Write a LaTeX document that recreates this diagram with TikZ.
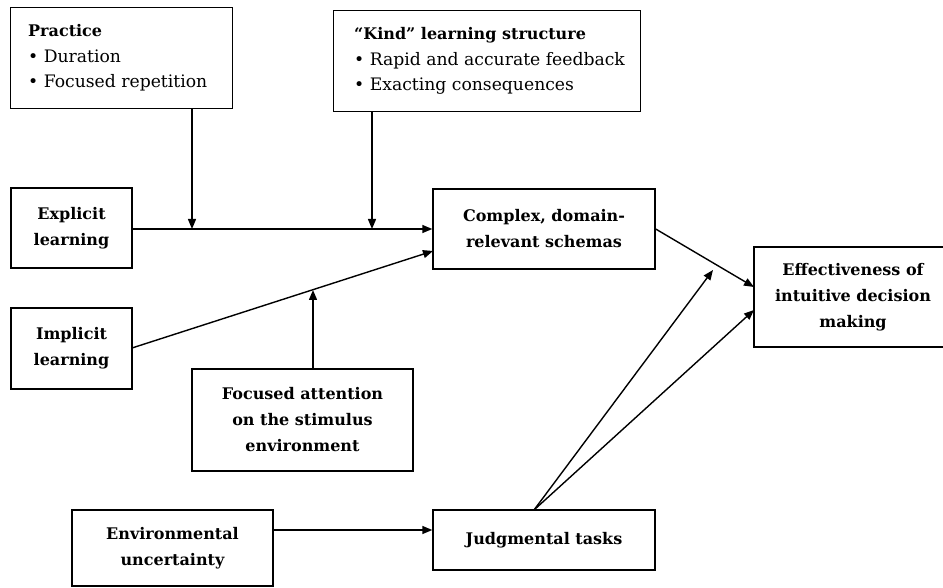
\documentclass[tikz,border=0pt]{standalone}
\usepackage{fontspec}
\setmainfont{DejaVu Serif}
\usetikzlibrary{arrows.meta}
\begin{document}
\begin{tikzpicture}[x=1pt,y=-1pt,
  box/.style={draw, line width=1.4pt, inner sep=0pt, align=center,
    font=\fontsize{16}{26}\selectfont\bfseries},
  frame/.style={draw, line width=1.4pt, inner sep=0pt, anchor=north west},
  listtext/.style={inner sep=0pt, align=left, anchor=west,
    font=\fontsize{17.2}{25.5}\selectfont},
  conn/.style={line width=1.4pt, -{Triangle[length=10pt,width=8pt]}}
]
\clip (0,0) rectangle (943,588);
\fill[white] (0,0) rectangle (943,588);
% nodes
\node[frame, minimum width=222pt, minimum height=101pt] (practice) at (10,7) {};
\node[listtext] (practicetxt) at (28,58)
  {{\fontsize{16}{25.5}\selectfont\bfseries Practice}\\ • Duration\\ • Focused repetition};
\node[frame, minimum width=307pt, minimum height=101pt] (kind) at (333,10) {};
\node[listtext] (kindtxt) at (354,61)
  {{\fontsize{16}{25.5}\selectfont\bfseries “Kind” learning structure}\\ • Rapid and accurate feedback\\ • Exacting consequences};
\node[box, minimum width=121pt, minimum height=80pt] (explicit) at (71.5,228) {Explicit\\learning};
\node[box, minimum width=222pt, minimum height=80pt] (complex) at (544,229) {Complex, domain-\\relevant schemas};
\node[box, minimum width=198pt, minimum height=100pt] (eff) at (853,297) {Effectiveness of\\intuitive decision\\making};
\node[box, minimum width=121pt, minimum height=81pt] (implicit) at (71.5,348.5) {Implicit\\learning};
\node[box, minimum width=221pt, minimum height=102pt] (focused) at (302.5,420) {Focused attention\\on the stimulus\\environment};
\node[box, minimum width=201pt, minimum height=76pt] (env) at (172.5,548) {Environmental\\uncertainty};
\node[box, minimum width=222pt, minimum height=60pt] (judg) at (544,540) {Judgmental tasks};
% helper coordinates
\coordinate (pa) at (192,229);
\coordinate (ka) at (372,229);
\coordinate (fa) at (313,290);
\coordinate (ja) at (713,270);
\coordinate (js) at (534,510);
\coordinate (ea) at (754,287);
\coordinate (eb) at (754,310);
\coordinate (ia) at (433,251);
\coordinate (ib) at (132,348);
\coordinate (ev) at (273,530);
% connectors
\draw[conn] (explicit.east |- complex.west) -- (complex.west);
\draw[conn] (pa |- practice.south) -- (pa);
\draw[conn] (ka |- kind.south) -- (ka);
\draw[conn] (ib) -- (ia);
\draw[conn] (fa |- focused.north) -- (fa);
\draw[conn] (complex.east) -- (ea);
\draw[conn] (js) -- (ja);
\draw[conn] (js) -- (eb);
\draw[conn] (ev) -- (ev -| judg.west);
\end{tikzpicture}
\end{document}
